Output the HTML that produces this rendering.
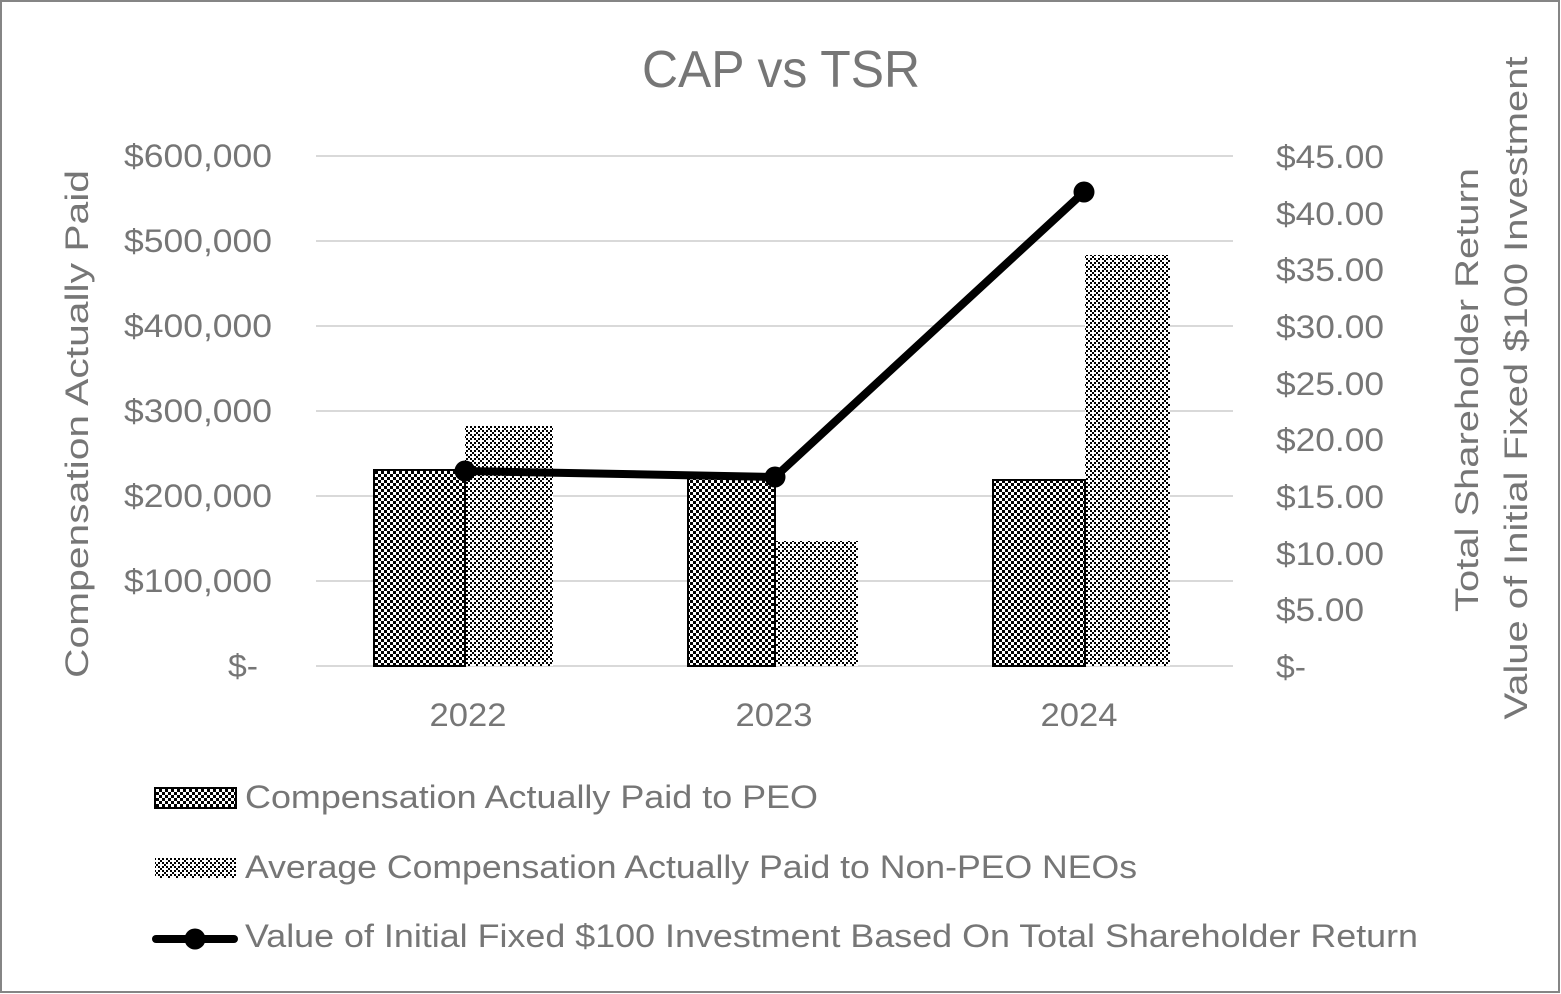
<!DOCTYPE html>
<html>
<head>
<meta charset="utf-8">
<style>
  html, body { margin: 0; padding: 0; background: #ffffff; }
  svg { display: block; }
  text { font-family: "Liberation Sans", Arial, sans-serif; fill: #767676; }
</style>
</head>
<body>
<svg width="1561" height="994" viewBox="0 0 1561 994" xmlns="http://www.w3.org/2000/svg">
  <defs>
    <pattern id="peo" x="0" y="0" width="6" height="6" patternUnits="userSpaceOnUse">
      <rect x="0" y="0" width="6" height="6" fill="#ffffff"/>
      <rect x="0" y="0" width="3" height="3" fill="#000000"/>
      <rect x="3" y="3" width="3" height="3" fill="#000000"/>
    </pattern>
    <pattern id="neo" x="0" y="0" width="8" height="8" patternUnits="userSpaceOnUse">
      <rect x="0" y="0" width="8" height="8" fill="#ffffff"/>
      <rect x="4" y="0" width="2" height="2" fill="#000000"/>
      <rect x="2" y="2" width="2" height="2" fill="#000000"/>
      <rect x="6" y="2" width="2" height="2" fill="#000000"/>
      <rect x="0" y="4" width="2" height="2" fill="#000000"/>
      <rect x="2" y="6" width="2" height="2" fill="#000000"/>
      <rect x="6" y="6" width="2" height="2" fill="#000000"/>
    </pattern>
  </defs>

  <!-- background & border -->
  <rect x="0" y="0" width="1561" height="994" fill="#ffffff"/>
  <rect x="1" y="1" width="1558" height="991" fill="none" stroke="#858585" stroke-width="2"/>

  <!-- title -->
  <text x="642" y="87" font-size="52" textLength="278" lengthAdjust="spacingAndGlyphs">CAP vs TSR</text>

  <!-- gridlines -->
  <g stroke="#d9d9d9" stroke-width="2">
    <line x1="316" y1="156" x2="1233" y2="156"/>
    <line x1="316" y1="241" x2="1233" y2="241"/>
    <line x1="316" y1="326" x2="1233" y2="326"/>
    <line x1="316" y1="411" x2="1233" y2="411"/>
    <line x1="316" y1="496" x2="1233" y2="496"/>
    <line x1="316" y1="581" x2="1233" y2="581"/>
    <line x1="316" y1="666" x2="1233" y2="666"/>
  </g>

  <!-- left tick labels -->
  <g font-size="32" text-anchor="end">
    <text x="272" y="167" textLength="148" lengthAdjust="spacingAndGlyphs">$600,000</text>
    <text x="272" y="252" textLength="148" lengthAdjust="spacingAndGlyphs">$500,000</text>
    <text x="272" y="337" textLength="148" lengthAdjust="spacingAndGlyphs">$400,000</text>
    <text x="272" y="422" textLength="148" lengthAdjust="spacingAndGlyphs">$300,000</text>
    <text x="272" y="507" textLength="148" lengthAdjust="spacingAndGlyphs">$200,000</text>
    <text x="272" y="592" textLength="148" lengthAdjust="spacingAndGlyphs">$100,000</text>
    <text x="258" y="677" textLength="30" lengthAdjust="spacingAndGlyphs">$-</text>
  </g>

  <!-- right tick labels -->
  <g font-size="32">
    <text x="1276" y="168" textLength="108" lengthAdjust="spacingAndGlyphs">$45.00</text>
    <text x="1276" y="225" textLength="108" lengthAdjust="spacingAndGlyphs">$40.00</text>
    <text x="1276" y="281" textLength="108" lengthAdjust="spacingAndGlyphs">$35.00</text>
    <text x="1276" y="338" textLength="108" lengthAdjust="spacingAndGlyphs">$30.00</text>
    <text x="1276" y="395" textLength="108" lengthAdjust="spacingAndGlyphs">$25.00</text>
    <text x="1276" y="451" textLength="108" lengthAdjust="spacingAndGlyphs">$20.00</text>
    <text x="1276" y="508" textLength="108" lengthAdjust="spacingAndGlyphs">$15.00</text>
    <text x="1276" y="565" textLength="108" lengthAdjust="spacingAndGlyphs">$10.00</text>
    <text x="1276" y="621" textLength="88" lengthAdjust="spacingAndGlyphs">$5.00</text>
    <text x="1276" y="678" textLength="30" lengthAdjust="spacingAndGlyphs">$-</text>
  </g>

  <!-- axis titles -->
  <text transform="translate(88,424) rotate(-90)" font-size="32" text-anchor="middle" textLength="508" lengthAdjust="spacingAndGlyphs">Compensation Actually Paid</text>
  <text transform="translate(1478,390) rotate(-90)" font-size="32" text-anchor="middle" textLength="444" lengthAdjust="spacingAndGlyphs">Total Shareholder Return</text>
  <text transform="translate(1527,388) rotate(-90)" font-size="32" text-anchor="middle" textLength="663" lengthAdjust="spacingAndGlyphs">Value of Initial Fixed $100 Investment</text>

  <!-- bars -->
  <!-- 2022 -->
  <rect x="465" y="426" width="88" height="240" fill="url(#neo)"/>
  <rect x="374" y="470" width="91" height="196" fill="url(#peo)" stroke="#000" stroke-width="2"/>
  <!-- 2023 -->
  <rect x="775" y="541" width="83" height="125" fill="url(#neo)"/>
  <rect x="688" y="478" width="87" height="188" fill="url(#peo)" stroke="#000" stroke-width="2"/>
  <!-- 2024 -->
  <rect x="1085" y="255" width="85" height="411" fill="url(#neo)"/>
  <rect x="993" y="480" width="92" height="186" fill="url(#peo)" stroke="#000" stroke-width="2"/>

  <!-- TSR line -->
  <polyline points="465,471 775,477 1084,192" fill="none" stroke="#000" stroke-width="8" stroke-linejoin="round" stroke-linecap="round"/>
  <circle cx="465" cy="471" r="10.5" fill="#000"/>
  <circle cx="775" cy="477" r="10.5" fill="#000"/>
  <circle cx="1084" cy="192" r="10.5" fill="#000"/>

  <!-- category labels -->
  <g font-size="32" text-anchor="middle">
    <text x="468" y="726" textLength="77" lengthAdjust="spacingAndGlyphs">2022</text>
    <text x="774" y="726" textLength="77" lengthAdjust="spacingAndGlyphs">2023</text>
    <text x="1079" y="726" textLength="77" lengthAdjust="spacingAndGlyphs">2024</text>
  </g>

  <!-- legend -->
  <rect x="155" y="788" width="81" height="20" fill="url(#peo)" stroke="#000" stroke-width="2"/>
  <text x="245" y="808" font-size="32" textLength="573" lengthAdjust="spacingAndGlyphs">Compensation Actually Paid to PEO</text>

  <rect x="155" y="858" width="81" height="20" fill="url(#neo)"/>
  <text x="245" y="878" font-size="32" textLength="892" lengthAdjust="spacingAndGlyphs">Average Compensation Actually Paid to Non-PEO NEOs</text>

  <line x1="156" y1="939" x2="234" y2="939" stroke="#000" stroke-width="8" stroke-linecap="round"/>
  <circle cx="195" cy="939" r="10.5" fill="#000"/>
  <text x="245" y="947" font-size="32" textLength="1173" lengthAdjust="spacingAndGlyphs">Value of Initial Fixed $100 Investment Based On Total Shareholder Return</text>
</svg>
</body>
</html>
